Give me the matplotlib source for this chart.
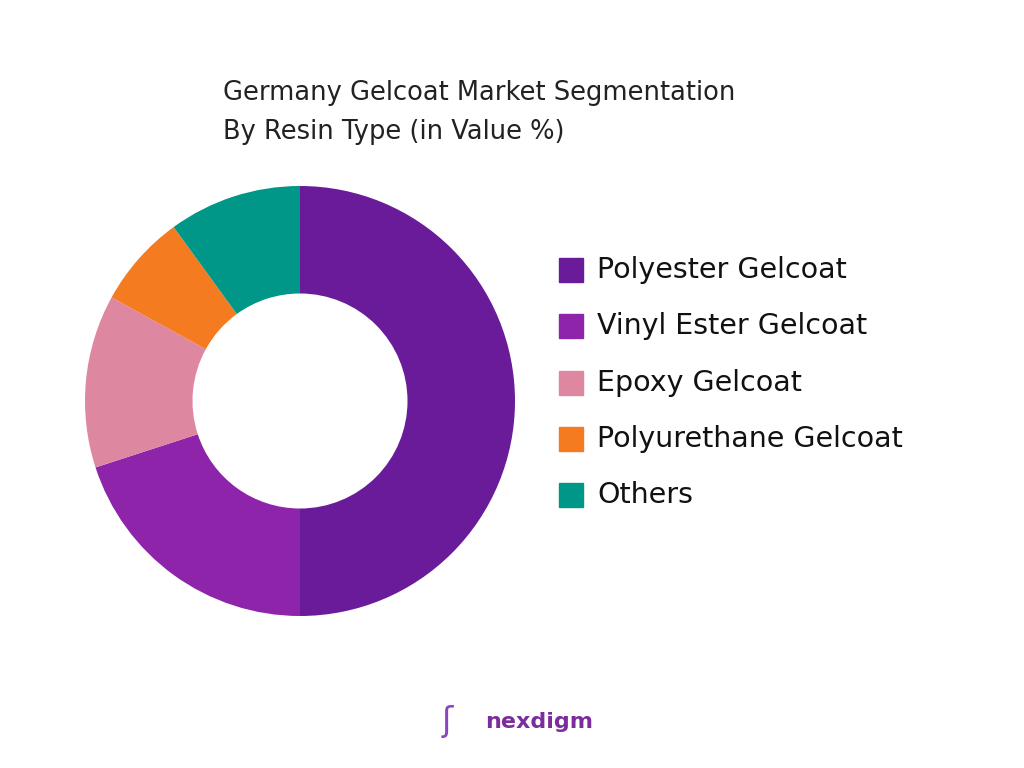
import matplotlib.pyplot as plt
from matplotlib.patches import Rectangle

labels = ["Polyester Gelcoat", "Vinyl Ester Gelcoat", "Epoxy Gelcoat", "Polyurethane Gelcoat", "Others"]
values = [50, 20, 13, 7, 10]
colors = ["#6A1B9A", "#8E24AA", "#DE87A0", "#F47B20", "#009688"]

plt.rcParams['font.family'] = ['DejaVu Sans']
fig = plt.figure(figsize=(10.24, 7.68), dpi=100)
ax = fig.add_axes([(300 - 215)/1024, 1 - (401 + 215)/768, 430/1024, 430/768])
ax.pie(values, colors=colors, startangle=90, counterclock=False,
       wedgeprops=dict(width=0.5, edgecolor='none'))
ax.set_xlim(-1, 1)
ax.set_ylim(-1, 1)
ax.set_aspect('equal')

fig.text(223/1024, 1 - 93/768, "Germany Gelcoat Market Segmentation", fontsize=18.5, va='center', color='#222222')
fig.text(223/1024, 1 - 132/768, "By Resin Type (in Value %)", fontsize=18.5, va='center', color='#222222')

ys = [270, 326, 383, 439, 495]
for lab, c, y in zip(labels, colors, ys):
    fig.patches.append(Rectangle((559/1024, 1 - (y + 12)/768), 24/1024, 24/768,
                                 transform=fig.transFigure, color=c))
    fig.text(597/1024, 1 - y/768, lab, fontsize=20.5, va='center', color='#111111')

fig.text(485/1024, 1 - 722/768, "nexdigm", fontsize=16, fontweight='bold', color='#7B2D9B', va='center')
fig.text(442/1024, 1 - 722/768, "ʃ", fontsize=24, color='#8E44C0', va='center')
fig.savefig("out.png", dpi=100, facecolor='white')
